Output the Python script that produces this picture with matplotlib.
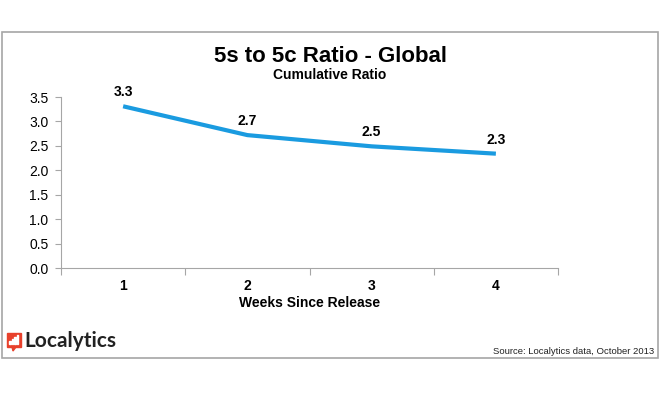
import matplotlib
matplotlib.use("Agg")
import matplotlib.pyplot as plt
from matplotlib.patches import Rectangle, Polygon

weeks = ["1", "2", "3", "4"]
ratio = [3.31, 2.72, 2.49, 2.34]
ratio_labels = ["3.3", "2.7", "2.5", "2.3"]
yticks = [0.0, 0.5, 1.0, 1.5, 2.0, 2.5, 3.0, 3.5]

plt.rcParams['font.family'] = ['Liberation Sans', 'DejaVu Sans']

W, H = 660, 396
fig = plt.figure(figsize=(6.6, 3.96), dpi=100)

def fx(px):
    return px / W

def fy(py):
    return 1 - py / H

# outer frame
fig.patches.append(Rectangle((fx(2), fy(358)), fx(656), (358 - 32) / H,
                             transform=fig.transFigure, fill=False,
                             edgecolor='#a6a6a6', linewidth=1.2))

ax = fig.add_axes([fx(61), fy(268), fx(558 - 61), (268 - 97) / H])
x = list(range(1, len(weeks) + 1))
ax.plot(x, ratio, color='#1a9be0', linewidth=3, solid_capstyle='butt')
for xi, yi, lab in zip(x, ratio, ratio_labels):
    ax.annotate(lab, (xi, yi), xytext=(0, 5), textcoords='offset points',
                ha='center', va='bottom', fontsize=10, fontweight='bold')

ax.set_xlim(0.5, len(weeks) + 0.5)
ax.set_ylim(0, 3.5)
ax.set_yticks(yticks)
ax.set_yticklabels([f"{v:.1f}" for v in yticks], fontsize=10)
ax.set_xticks([i + 0.5 for i in range(0, len(weeks) + 1)])
ax.set_xticklabels([])
ax.set_xticks(x, minor=True)
ax.set_xticklabels(weeks, minor=True, fontsize=10, fontweight='bold')
ax.tick_params(axis='x', which='minor', length=0, pad=8)
ax.tick_params(axis='x', which='major', length=5, color='#a6a6a6', direction='out')
ax.tick_params(axis='y', length=4, color='#a6a6a6', pad=5)
for s in ['top', 'right']:
    ax.spines[s].set_visible(False)
ax.spines['left'].set_color('#a6a6a6')
ax.spines['bottom'].set_color('#a6a6a6')
ax.set_xlabel("Weeks Since Release", fontsize=10, fontweight='bold', labelpad=2)

fig.text(fx(330), fy(57), "5s to 5c Ratio - Global", ha='center', va='center',
         fontsize=16, fontweight='bold')
fig.text(fx(330), fy(75), "Cumulative Ratio", ha='center', va='center',
         fontsize=10, fontweight='bold')
fig.text(fx(654), fy(352), "Source: Localytics data, October 2013", ha='right',
         va='center', fontsize=6.8, color='#222222')

# logo
fig.patches.append(Rectangle((fx(7), fy(347)), fx(14), 14 / H,
                             transform=fig.transFigure, color='#e8412c'))
fig.patches.append(Polygon([(fx(12), fy(347)), (fx(16), fy(347)), (fx(13), fy(351))],
                           closed=True, transform=fig.transFigure, color='#e8412c'))
for i, h in enumerate([3, 5, 7, 9]):
    fig.patches.append(Rectangle((fx(9 + i * 2.5), fy(344)), fx(1.5), h / H,
                                 transform=fig.transFigure, color='white'))
fig.text(fx(24), fy(341), "Localytics", ha='left', va='center', fontsize=15,
         fontweight='bold', color='#222222', family=['Lato', 'DejaVu Sans'])

fig.savefig("out.png", dpi=100)
